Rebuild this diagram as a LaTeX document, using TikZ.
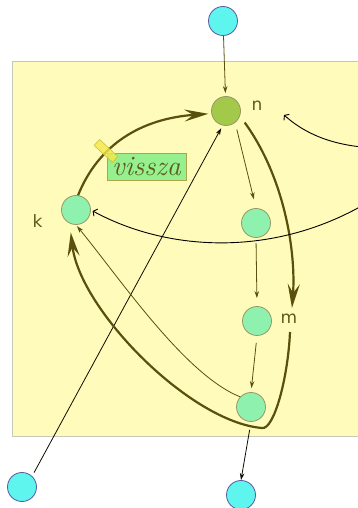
\documentclass[tikz,border=0pt]{standalone}
\usepackage{fontspec}
\newfontfamily\labelfont{DejaVu Sans}
\usetikzlibrary{arrows.meta}

\definecolor{paper}{RGB}{255,251,186}
\definecolor{frameedge}{RGB}{200,200,184}
\definecolor{srcfill}{RGB}{94,245,238}
\definecolor{srcedge}{RGB}{90,90,160}
\definecolor{nodefill}{RGB}{142,242,174}
\definecolor{nodeedge}{RGB}{150,150,105}
\definecolor{hubfill}{RGB}{163,201,74}
\definecolor{lineolive}{RGB}{88,80,12}
\definecolor{lbltext}{RGB}{91,91,30}
\definecolor{tagfill}{RGB}{150,240,142}
\definecolor{tagedge}{RGB}{168,168,72}
\definecolor{tickfill}{RGB}{245,232,74}
\definecolor{tickedge}{RGB}{200,192,64}

\tikzset{
  src/.style={circle, draw=srcedge, fill=srcfill, line width=0.8pt,
    minimum size=29pt, inner sep=0pt},
  stepnode/.style={circle, draw=nodeedge, fill=nodefill, line width=0.8pt,
    minimum size=29pt, inner sep=0pt},
  hub/.style={stepnode, fill=hubfill},
  lbl/.style={font=\labelfont\fontsize{17}{17}\selectfont, text=lbltext, inner sep=0pt},
  flow/.style={draw=lineolive, line width=0.8pt, -{Stealth[length=7pt,width=4.5pt]}},
  darkflow/.style={draw=black!85!lineolive, line width=0.8pt, -{Stealth[length=7pt,width=4.5pt]}},
  bold/.style={draw=lineolive, line width=2.2pt,
    -{Stealth[length=24pt,width=12pt,inset=9pt]}},
  outer/.style={draw=black, line width=0.9pt, -{Straight Barb[length=3pt,width=8pt]}},
  tag/.style={draw=tagedge, fill=tagfill, line width=0.8pt, minimum width=79pt,
    minimum height=27pt, inner sep=0pt, text=lbltext,
    font=\itshape\fontsize{28}{28}\selectfont},
  tick/.style={draw=tickedge, fill=tickfill, fill opacity=0.8, line width=0.6pt,
    minimum width=25pt, minimum height=8pt, inner sep=0pt},
}

\begin{document}
\begin{tikzpicture}[x=1pt,y=1pt]
\useasboundingbox (0,0) rectangle (358,508);
\clip (0,0) rectangle (358,508);

% cluster frame
\draw[draw=frameedge, fill=paper, line width=0.8pt] (12,72) rectangle (380,447);

% nodes
\node[src] (t) at (223,487) {};
\node[hub] (n) at (226,397) {};
\node[stepnode] (a) at (256,285) {};
\node[stepnode] (m) at (257,187) {};
\node[stepnode] (b) at (251,101) {};
\node[src] (c) at (241,13) {};
\node[stepnode] (k) at (76,298) {};
\node[src] (d) at (22,21) {};

% node labels
\node[lbl] (nl) at (257,402.5) {n};
\node[lbl] (ml) at (289,189) {m};
\node[lbl] (kl) at (37.5,286.5) {k};

% free ends of the long curves
\coordinate (mhead) at (292,200);
\coordinate (mtail) at (290,176);
\coordinate (r1) at (375,360);
\coordinate (r1end) at (284,393);
\coordinate (r2) at (375,310);

% straight edges
\draw[flow, shorten >=3pt] (t) -- (n);
\draw[flow, shorten <=7pt, shorten >=9pt] (n.-52) -- (a.north);
\draw[flow, shorten <=5pt, shorten >=8pt] (a.south) -- (m.north);
\draw[flow, shorten <=7pt, shorten >=4pt] (m.south) -- (b.north);
\draw[darkflow, shorten <=8pt] (b.south) -- (c.north);
\draw[darkflow, shorten <=4pt, shorten >=3pt] (d.47) -- (n.257);

% thin return curve
\draw[flow, shorten >=1.5pt] (b.137) .. controls +(-55,22) and +(45,-55) .. (k.south);

% thick loop around the chain
\draw[bold, shorten <=8pt] (n.-20) .. controls +(45,-62) and +(4,55) .. (mhead);
\draw[bold, shorten >=9pt] (mtail) .. controls (288,130) and (274,78) .. (262,80)
  .. controls (190,86) and (80,198) .. (k.-115);

% thick back edge
\draw[bold, shorten >=3pt] (k.82) .. controls +(20.6,51) and +(-70,-5) .. (n.190);

% incoming curves from the right
\draw[outer] (r1) .. controls (330,362) and (303,376) .. (r1end);
\draw[outer, shorten >=2pt] (r2) .. controls (280,250) and (170,255) .. (k.east);

% edge label and its marker
\node[tag] (v) at (146.5,341.5) {vissza};
\node[tick, rotate=-43] (vt) at (106,357) {};
\end{tikzpicture}
\end{document}
